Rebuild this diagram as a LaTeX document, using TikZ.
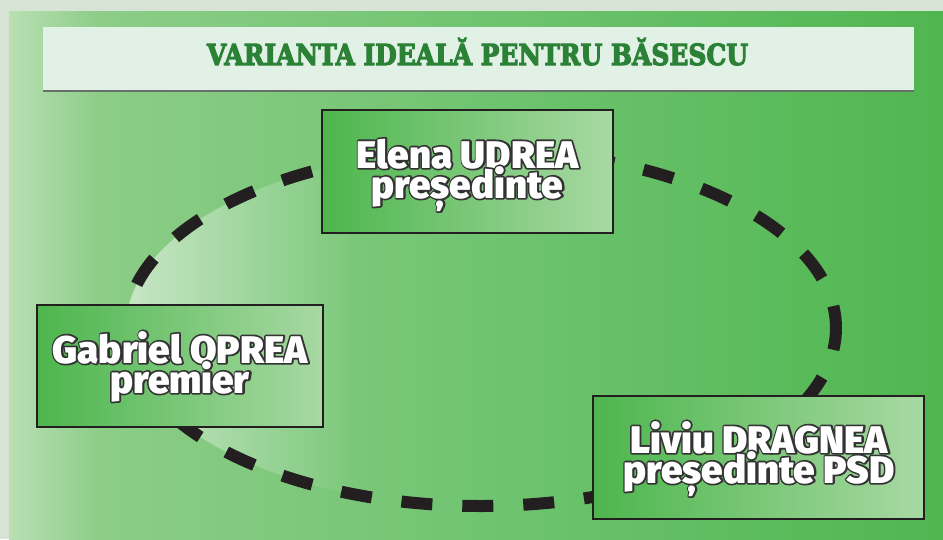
\documentclass[tikz,border=0pt]{standalone}
\usepackage{fontspec}
\IfFontExistsTF{Fira Sans Black}
  {\newfontfamily\boxfontbase{Fira Sans Black}\newcommand{\boxfont}{\boxfontbase}}
  {\IfFontExistsTF{Fira Sans ExtraBold}
    {\newfontfamily\boxfontbase{Fira Sans ExtraBold}\newcommand{\boxfont}{\boxfontbase}}
    {\newfontfamily\boxfontbase{Fira Sans}\newcommand{\boxfont}{\boxfontbase\bfseries}}}
\newfontfamily\titlefont{DejaVu Serif}
\definecolor{frame}{RGB}{214,227,213}
\definecolor{bgA}{RGB}{185,223,179}
\definecolor{bgB}{RGB}{140,205,135}
\definecolor{bgC}{RGB}{112,196,113}
\definecolor{bgD}{RGB}{80,182,80}
\definecolor{lightA}{RGB}{200,230,198}
\definecolor{lightB}{RGB}{206,234,205}
\definecolor{lightC}{RGB}{121,199,120}
\definecolor{titlebg}{RGB}{225,241,230}
\definecolor{titleink}{RGB}{43,130,54}
\definecolor{titleshadow}{RGB}{105,110,105}
\definecolor{boxL}{RGB}{77,182,77}
\definecolor{boxM}{RGB}{108,194,106}
\definecolor{boxR}{RGB}{168,217,163}
\definecolor{ink}{RGB}{35,31,32}
\definecolor{outl}{RGB}{50,50,50}
\tikzset{
  personbox/.style={draw=ink, line width=2.3pt, left color=boxL, middle color=boxM, right color=boxR, inner sep=0pt},
  linetext/.style={anchor=base, inner sep=0pt, text=white, font=\boxfont\fontsize{38.5}{30}\selectfont},
  titletext/.style={anchor=base, inner sep=0pt, text=titleink, font=\titlefont\bfseries\fontsize{29}{30}\selectfont},
  dashring/.style={draw=ink, line width=12pt, dash pattern=on 31pt off 30pt, dash phase=9pt}
}
% outlined text: a dark stroked layer under the white letters
\newcommand{\ol}[1]{\rlap{\color{outl}\special{pdf:literal direct 0.2 0.2 0.2 RG 3.4 w 1 j 2 Tr}#1\special{pdf:literal direct 0 Tr 1 w 0 j}}#1}
% heavier title: stroke in the same colour
\newcommand{\heavy}[1]{\special{pdf:literal direct 0.169 0.51 0.212 RG 1.2 w 2 Tr}#1\special{pdf:literal direct 0 Tr 1 w}}
\begin{document}
\begin{tikzpicture}[x=1pt,y=-1pt]
\useasboundingbox (0,0) rectangle (943,539);
% background
\fill[frame] (0,0) rectangle (943,539);
\shade[left color=bgA, right color=bgB] (9,11) rectangle (100.5,539);
\shade[left color=bgB, right color=bgC] (100,11) rectangle (480.5,539);
\shade[left color=bgC, right color=bgD] (480,11) rectangle (943,539);
% title bar
\fill[titleshadow] (43,29) rectangle (914,92);
\fill[titlebg] (43,27) rectangle (914,90);
\node[titletext] (title) at (477.5,65) {\heavy{\scalebox{0.86}[1]{VARIANTA IDEALĂ PENTRU BĂSESCU}}};
% light inside the ring
\begin{scope}
\clip (481,328) ellipse [x radius=355, y radius=178];
\shade[left color=lightA, middle color=lightB, right color=lightC] (126,140) rectangle (360,520);
\end{scope}
% dashed ring
\draw[dashring] (481,328) ellipse [x radius=355, y radius=178];
% boxes
\node[personbox, minimum width=291pt, minimum height=123pt] (elena) at (467.5,171.5) {};
\node[personbox, minimum width=286pt, minimum height=122pt] (gabriel) at (180,366) {};
\node[personbox, minimum width=331pt, minimum height=123pt] (liviu) at (758.5,457.5) {};
% texts
\node[linetext] (elena1) at (467.5,168) {\ol{Elena UDREA}};
\node[linetext] (elena2) at (467.5,198) {\ol{președinte}};
\node[linetext] (gabriel1) at (180,363) {\ol{Gabriel OPREA}};
\node[linetext] (gabriel2) at (180,393) {\ol{premier}};
\node[linetext] (liviu1) at (759,453) {\ol{Liviu DRAGNEA}};
\node[linetext] (liviu2) at (759,483) {\ol{președinte PSD}};
\end{tikzpicture}
\end{document}
